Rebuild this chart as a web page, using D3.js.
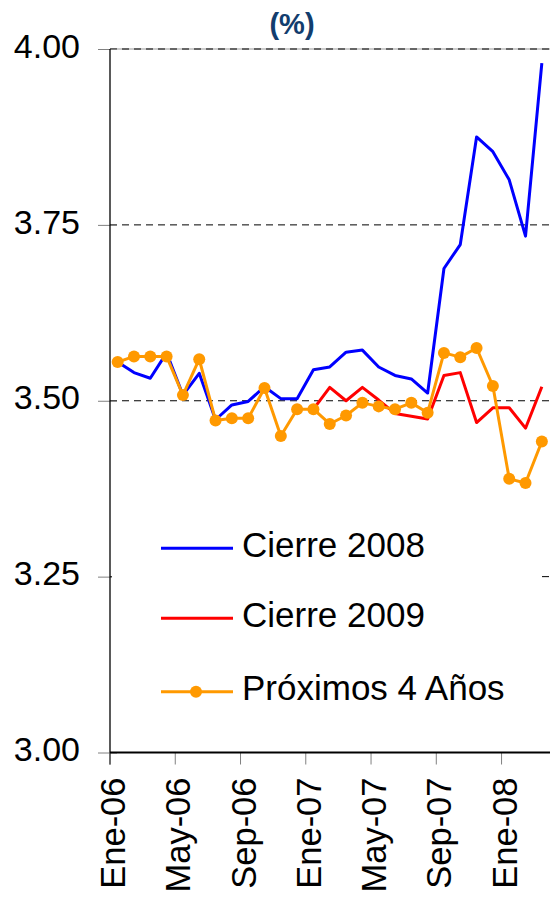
<!DOCTYPE html>
<html>
<head>
<meta charset="utf-8">
<script src="https://cdn.jsdelivr.net/npm/d3@7"></script>
<style>
  body { margin: 0; background: #fff; }
  svg { display: block; font-family: "Liberation Sans", Arial, sans-serif; }
</style>
</head>
<body>
<svg id="chart" width="550" height="900"></svg>
<script>
// months Ene-06 .. Mar-08
const months = ["Ene-06","Feb-06","Mar-06","Abr-06","May-06","Jun-06","Jul-06","Ago-06","Sep-06","Oct-06","Nov-06","Dic-06",
  "Ene-07","Feb-07","Mar-07","Abr-07","May-07","Jun-07","Jul-07","Ago-07","Sep-07","Oct-07","Nov-07","Dic-07",
  "Ene-08","Feb-08","Mar-08"]

const cierre2008 = [3.555, 3.540, 3.532, 3.568, 3.508, 3.539, 3.473, 3.494, 3.499, 3.520, 3.503, 3.503,
  3.544, 3.548, 3.569, 3.572, 3.548, 3.536, 3.531, 3.511, 3.688, 3.722, 3.875, 3.854, 3.814, 3.734, 3.980]

const cierre2009 = [null, null, null, null, null, null, null, null, null, null, null, null,
  3.488, 3.519, 3.500, 3.519, 3.501, 3.482, 3.478, 3.474, 3.536, 3.540, 3.469, 3.490, 3.490, 3.461, 3.520]

const proximos4 = [3.555, 3.563, 3.563, 3.563, 3.508, 3.559, 3.472, 3.475, 3.475, 3.518, 3.450, 3.488,
  3.488, 3.467, 3.479, 3.497, 3.492, 3.488, 3.497, 3.483, 3.568, 3.562, 3.575, 3.521, 3.389, 3.383, 3.442]

const yTicks = [3.00, 3.25, 3.50, 3.75, 4.00]
const gridTicks = [3.25, 3.50, 3.75, 4.00]
const xTickLabels = ["Ene-06","May-06","Sep-06","Ene-07","May-07","Sep-07","Ene-08"]

const series = [
  {name: "Cierre 2008", values: cierre2008, color: "#0000ff", dots: false},
  {name: "Cierre 2009", values: cierre2009, color: "#ff0000", dots: false},
  {name: "Próximos 4 Años", values: proximos4, color: "#ff9900", dots: true}
]

const svg = d3.select("#chart")

const plotLeft = 110, plotRight = 550, plotTop = 49, plotBottom = 752.5

// x: category boundaries on a linear scale, points sit at i + 0.5
const x = d3.scaleLinear().domain([0, months.length]).range([109.5, plotRight])
const y = d3.scaleLinear().domain([3, 4]).range([plotBottom, plotTop])

// title
svg.append("text")
  .attr("x", 292).attr("y", 34)
  .attr("text-anchor", "middle")
  .style("font-size", "29px").style("font-weight", "bold")
  .style("fill", "#123d6e")
  .text("(%)")

// gridlines
svg.append("line")
  .attr("x1", plotLeft).attr("x2", plotRight)
  .attr("y1", y(4)).attr("y2", y(4))
  .attr("stroke", "#9a9a9a").attr("stroke-width", 1.2)

svg.append("g").selectAll("line")
  .data(gridTicks)
  .enter().append("line")
  .attr("x1", plotLeft).attr("x2", plotRight)
  .attr("y1", d => y(d)).attr("y2", d => y(d))
  .attr("stroke", "#000").attr("stroke-width", 1)
  .attr("stroke-dasharray", "7,5")

// y axis
const yAxis = svg.append("g")
  .attr("transform", `translate(${plotLeft},0)`)
  .call(d3.axisLeft(y).tickValues(yTicks).tickFormat(d3.format(".2f")).tickSize(12).tickPadding(18))

yAxis.select(".domain").remove()
yAxis.selectAll(".tick line").attr("x1", 7).attr("stroke", "#808080")
yAxis.selectAll(".tick text")
  .attr("dy", "0.24em")
  .style("font-size", "34px")
  .style("fill", "#000")
  .style("font-family", "\"Liberation Sans\", Arial, sans-serif")

svg.append("line")
  .attr("x1", plotLeft).attr("x2", plotLeft)
  .attr("y1", plotTop).attr("y2", plotBottom + 12)
  .attr("stroke", "#000").attr("stroke-width", 1.3)

// x axis
const xAxis = svg.append("g")
  .attr("transform", `translate(0,${plotBottom})`)
  .call(d3.axisBottom(x)
    .tickValues(xTickLabels.map((d, i) => i * 4))
    .tickFormat((d, i) => xTickLabels[i])
    .tickSize(12))

xAxis.select(".domain").remove()
xAxis.selectAll(".tick line").attr("stroke", "#808080")
xAxis.selectAll(".tick text")
  .attr("x", 0).attr("y", 0)
  .attr("dy", "0.36em")
  .attr("transform", "translate(2.7,25) rotate(-90)")
  .style("text-anchor", "end")
  .style("font-size", "34.5px")
  .style("fill", "#000")
  .style("font-family", "\"Liberation Sans\", Arial, sans-serif")

svg.append("line")
  .attr("x1", plotLeft).attr("x2", plotRight)
  .attr("y1", plotBottom).attr("y2", plotBottom)
  .attr("stroke", "#000").attr("stroke-width", 1.8)

// series
const line = d3.line()
  .defined(d => d != null)
  .x((d, i) => x(i + 0.5))
  .y(d => y(d))

series.forEach(s => {
  svg.append("path")
    .datum(s.values)
    .attr("fill", "none")
    .attr("stroke", s.color)
    .attr("stroke-width", 3)
    .attr("stroke-linejoin", "round")
    .attr("d", line)

  if (s.dots) {
    svg.append("g").selectAll("circle")
      .data(s.values.map((v, i) => ({v: v, i: i})).filter(d => d.v != null))
      .enter().append("circle")
      .attr("cx", d => x(d.i + 0.5))
      .attr("cy", d => y(d.v))
      .attr("r", 6)
      .attr("fill", s.color)
  }
})

// legend
const legend = svg.append("g")
legend.append("rect")
  .attr("x", 112).attr("y", 522)
  .attr("width", 429).attr("height", 200)
  .attr("fill", "#fff")

const legendY = [548.3, 618.3, 691.7]
series.forEach((s, i) => {
  legend.append("line")
    .attr("x1", 161).attr("x2", 233)
    .attr("y1", legendY[i]).attr("y2", legendY[i])
    .attr("stroke", s.color).attr("stroke-width", 3)
  if (s.dots) {
    legend.append("circle")
      .attr("cx", 196).attr("cy", legendY[i])
      .attr("r", 6).attr("fill", s.color)
  }
  legend.append("text")
    .attr("x", 242).attr("y", legendY[i] + 8.4)
    .style("font-size", "35px")
    .style("fill", "#000")
    .text(s.name)
})
</script>
</body>
</html>
